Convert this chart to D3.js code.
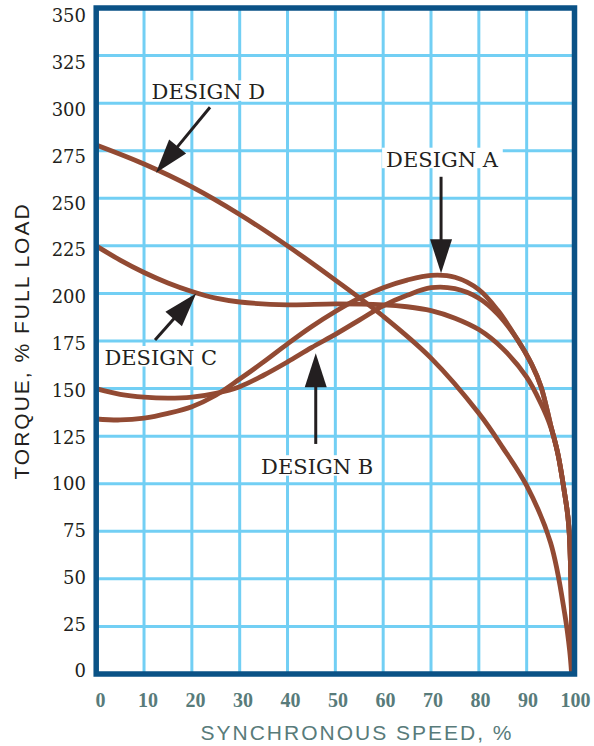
<!DOCTYPE html>
<html><head><meta charset="utf-8">
<script src="https://cdn.jsdelivr.net/npm/d3@7"></script>
<style>html,body{margin:0;padding:0;background:#fff;} svg{display:block}</style>
</head><body><svg id="c" width="594" height="746"></svg>
<script>
// ---- data ----
const xTicks = [0,10,20,30,40,50,60,70,80,90,100];
const yTicks = [0,25,50,75,100,125,150,175,200,225,250,275,300,325,350];
const designA = [[0,134],[5,133.5],[10,134.5],[15,137],[20,140.5],[25,146.5],[30,155],[35,164],[40,173.5],[45,182.5],[50,190.5],[55,197.5],[60,203],[65,207],[70,209.5],[75,208.5],[80,202],[84,191],[88,176],[91,163],[93,151],[95,131],[96.5,116],[97.8,97],[98.8,78],[99.5,0]];
const designB = [[0,150],[5,147],[10,145.5],[15,145],[20,145.5],[25,147.5],[30,151],[35,157],[40,164],[45,171.5],[50,178.5],[55,186],[60,193.5],[65,199],[70,203],[75,202.5],[80,197.5],[84,189],[88,176],[91,163],[93,151],[95,131],[96.5,116],[97.8,97],[98.8,78],[99.5,0]];
const designC = [[0,225],[5,217.5],[10,211],[15,205.5],[20,201],[25,197.5],[30,195.5],[40,194],[50,194.5],[60,194],[65,193],[70,191],[75,187],[80,181],[85,171],[90,156],[93,142],[95,130],[96.5,116],[97.8,97],[98.8,78],[99.5,0]];
const designD = [[0,278],[10,268],[20,256],[30,241.5],[40,225],[50,207],[60,188],[70,166],[80,137],[85,119],[90,99],[95,69],[98,31],[99,12],[99.4,0]];
const labelNames = ["DESIGN A","DESIGN B","DESIGN C","DESIGN D"];
const labelAnchors = [[72.3,266.6],[46.2,105],[13.5,162.4],[23.45,302]];
const arrowTails = [[72.1,261.3],[45.9,120.9],[12.3,175.5],[23.8,297.8]];
const arrowTips = [[72.1,210.6],[45.9,168.5],[20.9,200],[12.5,263.4]];

// ---- drawing ----
const svg = d3.select("#c");
svg.append("rect").attr("width",594).attr("height",746).attr("fill","#fff");
const x = d3.scaleLinear().domain([0,100]).range([96.2,574.5]);
const y = d3.scaleLinear().domain([0,350]).range([674,8]);
const xLab = d3.scaleLinear().domain([0,100]).range([100,575]);
const yLab = d3.scaleLinear().domain([0,350]).range([670.5,15.5]);

const gridColor = "#72cff4", frameColor = "#0a5286", curveColor = "#924a33", ink = "#231f20", teal = "#587b7a";

// grid
svg.append("g").selectAll("line").data(xTicks.slice(1,-1)).join("line")
  .attr("x1",d=>x(d)).attr("x2",d=>x(d)).attr("y1",y(350)).attr("y2",y(0))
  .attr("stroke",gridColor).attr("stroke-width",3);
svg.append("g").selectAll("line").data(yTicks.slice(1,-1)).join("line")
  .attr("y1",d=>y(d)).attr("y2",d=>y(d)).attr("x1",x(0)).attr("x2",x(100))
  .attr("stroke",gridColor).attr("stroke-width",3);

// curves
const line = d3.line().x(d=>x(d[0])).y(d=>y(d[1])).curve(d3.curveCatmullRom.alpha(0.5));
svg.append("g").selectAll("path").data([designD,designC,designB,designA]).join("path")
  .attr("d",line).attr("fill","none").attr("stroke",curveColor).attr("stroke-width",4.8)
  .attr("stroke-linejoin","round");

// frame
svg.append("rect").attr("x",x(0)).attr("y",y(350)).attr("width",x(100)-x(0)).attr("height",y(0)-y(350))
  .attr("fill","none").attr("stroke",frameColor).attr("stroke-width",5.5);

// y tick labels
const gy = svg.append("g").attr("transform","translate(86,0)")
  .call(d3.axisLeft(yLab).tickValues(yTicks).tickSize(0).tickPadding(0).tickFormat(d3.format("d")));
gy.select(".domain").remove();
gy.selectAll("text").attr("font-family","'DejaVu Serif', serif").attr("font-size",18)
  .attr("fill",ink).attr("dy","0.36em");

// x tick labels
const gx = svg.append("g").attr("transform","translate(0,0)")
  .call(d3.axisBottom(xLab).tickValues(xTicks).tickSize(0).tickPadding(0).tickFormat(d3.format("d")));
gx.select(".domain").remove();
gx.selectAll("text").attr("y",706.5).attr("dy",0).attr("font-family","'Liberation Serif', serif")
  .attr("font-weight","bold").attr("font-size",20).attr("fill",teal);

// axis titles
svg.append("text").attr("x",357).attr("y",740).attr("text-anchor","middle")
  .attr("font-family","'Liberation Sans', Arial, sans-serif").attr("font-size",21)
  .attr("letter-spacing","2px").attr("fill",teal).text("SYNCHRONOUS SPEED, %");
svg.append("text").attr("transform","translate(28.5,341) rotate(-90)").attr("text-anchor","middle")
  .attr("font-family","'Liberation Sans', Arial, sans-serif").attr("font-size",21)
  .attr("letter-spacing","2px").attr("fill",ink).text("TORQUE, % FULL LOAD");

// annotation labels with white knockout
const lg = svg.append("g");
labelNames.forEach((name,i)=>{
  const g = lg.append("g");
  const bg = g.append("rect").attr("fill","#fff");
  const t = g.append("text").attr("x",x(labelAnchors[i][0])).attr("y",y(labelAnchors[i][1]))
    .attr("text-anchor","middle").attr("font-family","'DejaVu Serif', serif").attr("font-size",21)
    .attr("fill",ink).text(name);
  const bb = t.node().getBBox();
  const base = y(labelAnchors[i][1]);
  bg.attr("x",bb.x-4).attr("width",bb.width+8).attr("y",base-19).attr("height",20.5);
});

// arrows
const ag = svg.append("g");
const headLen = 34, halfW = 11;
arrowTips.forEach((tip,i)=>{
  const tx = x(arrowTails[i][0]), ty = y(arrowTails[i][1]);
  const px = x(tip[0]), py = y(tip[1]);
  const dx = px-tx, dy = py-ty, L = Math.hypot(dx,dy);
  const ux = dx/L, uy = dy/L, nx = -uy, ny = ux;
  const bx = px-ux*headLen, by = py-uy*headLen;
  ag.append("line").attr("x1",tx).attr("y1",ty).attr("x2",bx+ux*2).attr("y2",by+uy*2)
    .attr("stroke",ink).attr("stroke-width",3);
  ag.append("path").attr("d",`M${px},${py}L${bx+nx*halfW},${by+ny*halfW}L${bx-nx*halfW},${by-ny*halfW}Z`)
    .attr("fill",ink);
});
</script>
</body></html>
